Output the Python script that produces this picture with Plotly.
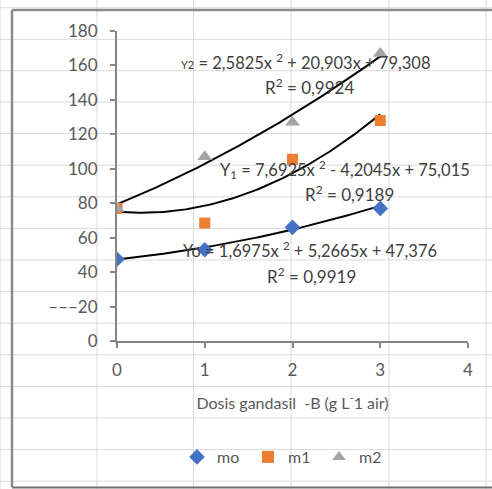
import numpy as np
import plotly.graph_objects as go

# ---- data ----
dose = [0, 1, 2, 3]
mo = [47.5, 53, 66, 77]
m1 = [77, 68.5, 105.5, 128]
m2 = [77, 107, 127, 167]

# polynomial trendline coefficients (a, b, c) as printed on the chart
coef_mo = [1.6975, 5.2665, 47.376]
coef_m1 = [7.6925, -4.2045, 75.015]
coef_m2 = [2.5825, 20.903, 79.308]
r2_mo, r2_m1, r2_m2 = 0.9919, 0.9189, 0.9924

y_ticks = [0, 20, 40, 60, 80, 100, 120, 140, 160, 180]
y_ticktext = ["0", "\u2013\u2013\u201320", "40", "60", "80", "100", "120", "140", "160", "180"]
x_ticks = [0, 1, 2, 3, 4]
x_title = "Dosis gandasil\u00a0\u00a0-B (g L<sup>-</sup>1 air)"

# ---- style ----
BLUE, ORANGE, GRAY = "#4472C4", "#ED7D31", "#A5A5A5"
TXT = "#595959"
FONT = "Lato"

W, H = 492, 489
ML, MR, MT, MB = 117, 24, 31, 148


def fmt(v, nd):
    return f"{abs(v):.{nd}f}".replace(".", ",")


def eq_text(prefix, c, nds):
    a, b, cc = c
    sb = "+" if b >= 0 else "-"
    sc = "+" if cc >= 0 else "-"
    return (f"{prefix} = {fmt(a, nds[0])}x <sup>2</sup> {sb} {fmt(b, nds[1])}x "
            f"{sc} {fmt(cc, nds[2])}")


fig = go.Figure()

xs = np.linspace(0, 3, 120)
for c in (coef_mo, coef_m1, coef_m2):
    fig.add_trace(go.Scatter(x=xs, y=np.polyval(c, xs), mode="lines",
                             line=dict(color="black", width=2),
                             showlegend=False, hoverinfo="skip"))

fig.add_trace(go.Scatter(x=dose, y=mo, mode="markers", name="mo",
                         marker=dict(symbol="diamond", size=12, color=BLUE)))
fig.add_trace(go.Scatter(x=dose, y=m1, mode="markers", name="m1",
                         marker=dict(symbol="square", size=11, color=ORANGE)))
fig.add_trace(go.Scatter(x=dose, y=m2, mode="markers", name="m2",
                         marker=dict(symbol="triangle-up", size=13, color=GRAY)))


def px2x(px):
    return (px - ML) / (W - ML - MR)


def px2y(py):
    return (H - MB - py) / (H - MT - MB)


shapes = []
# spreadsheet gridlines visible behind the photographed chart
for gx in [0, 97, 193.5, 291, 389, 486]:
    shapes.append(dict(type="line", xref="paper", yref="paper",
                       x0=px2x(gx), x1=px2x(gx), y0=px2y(0), y1=px2y(H),
                       line=dict(color="#DADADA", width=1), layer="below"))
for gy in [7.7, 39.3, 70.7, 102, 133.6, 165.2, 196.8, 228.4, 260, 291.6,
           323.2, 354.8, 386.4, 418, 449.6, 481.2]:
    shapes.append(dict(type="line", xref="paper", yref="paper",
                       x0=px2x(0), x1=px2x(W), y0=px2y(gy), y1=px2y(gy),
                       line=dict(color="#DADADA", width=1), layer="below"))
# chart-area border
shapes.append(dict(type="line", xref="paper", yref="paper",
                   x0=px2x(12), x1=px2x(12), y0=px2y(10), y1=px2y(487),
                   line=dict(color="#8C8C8C", width=2.5)))
shapes.append(dict(type="line", xref="paper", yref="paper",
                   x0=px2x(12), x1=px2x(W + 5), y0=px2y(10), y1=px2y(10),
                   line=dict(color="#8C8C8C", width=2.5)))
shapes.append(dict(type="line", xref="paper", yref="paper",
                   x0=px2x(12), x1=px2x(W + 5), y0=px2y(487.5), y1=px2y(487.5),
                   line=dict(color="#6E6E6E", width=2)))

eq_font = dict(family=FONT, size=16.5, color="#404040")
r2_font = dict(family=FONT, size=17, color="#404040")
annotations = [
    dict(x=2.15, y=162, font=eq_font,
         text=eq_text("<span style='font-size:11px'>Y2</span>", coef_m2, (4, 3, 3))),
    dict(x=2.19, y=147.5, font=r2_font, text=f"R<sup>2</sup> = {fmt(r2_m2, 4)}"),
    dict(x=2.6, y=99.6, font=eq_font, text=eq_text("Y<sub>1</sub>", coef_m1, (4, 4, 3))),
    dict(x=2.655, y=85.7, font=r2_font, text=f"R<sup>2</sup> = {fmt(r2_m1, 4)}"),
    dict(x=2.2, y=52.8, font=eq_font, text=eq_text("Yo", coef_mo, (4, 4, 3))),
    dict(x=2.22, y=38.3, font=r2_font, text=f"R<sup>2</sup> = {fmt(r2_mo, 4)}"),
]
for a in annotations:
    a.update(xref="x", yref="y", showarrow=False, xanchor="center",
             yanchor="middle")

fig.update_layout(
    width=W, height=H,
    margin=dict(l=ML, r=MR, t=MT, b=MB, pad=0, autoexpand=False),
    paper_bgcolor="white", plot_bgcolor="rgba(0,0,0,0)",
    font=dict(family=FONT, size=16, color=TXT),
    shapes=shapes, annotations=annotations,
    showlegend=True,
    legend=dict(orientation="h", x=px2x(177), xanchor="left",
                y=px2y(457), yanchor="middle",
                font=dict(family=FONT, size=16, color=TXT),
                entrywidth=26, entrywidthmode="pixels",
                bgcolor="rgba(0,0,0,0)", itemsizing="constant"),
    xaxis=dict(range=[0, 4], tickvals=x_ticks, showgrid=False, zeroline=False,
               showline=True, linecolor="#868686", linewidth=2,
               ticks="outside", ticklen=5, tickcolor="#868686", tickwidth=2,
               ticklabelstandoff=8, tickfont=dict(size=17),
               title=dict(text=x_title, standoff=18,
                          font=dict(family=FONT, size=16, color=TXT))),
    yaxis=dict(range=[0, 180], tickvals=y_ticks, ticktext=y_ticktext,
               showgrid=False, zeroline=False,
               showline=True, linecolor="#868686", linewidth=2,
               ticks="outside", ticklen=5, tickcolor="#868686", tickwidth=2,
               ticklabelstandoff=9, tickfont=dict(size=17)),
)

fig.write_html("out.html")
